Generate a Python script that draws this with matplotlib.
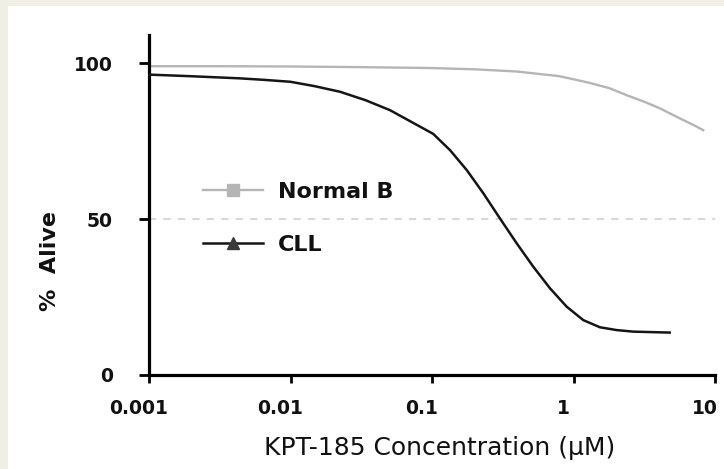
import matplotlib
matplotlib.use("Agg")
import matplotlib.pyplot as plt
import matplotlib.transforms as mtransforms
from matplotlib.lines import Line2D
from matplotlib.patches import Rectangle

# concentrations (uM) and % alive
normal_conc = [0.001, 0.00316, 0.01, 0.0316, 0.1, 0.2, 0.398, 0.794, 1.259, 1.778,
               2.377, 3.162, 4.074, 5.623, 7.079, 8.26]
normal_alive = [99.0, 99.0, 98.9, 98.7, 98.4, 98.0, 97.3, 95.8, 93.8, 92.0,
                89.7, 87.6, 85.5, 82.3, 80.1, 78.5]

cll_conc = [0.001, 0.00195, 0.0044, 0.0066, 0.01, 0.0148, 0.0224, 0.0339, 0.0505,
            0.0759, 0.102, 0.134, 0.176, 0.231, 0.302, 0.397, 0.52, 0.682, 0.895,
            1.172, 1.538, 2.018, 2.649, 4.786]
cll_alive = [96.3, 95.8, 95.1, 94.6, 94.0, 92.6, 90.8, 88.1, 84.9,
             80.5, 77.3, 72.1, 65.7, 58.2, 50.2, 42.2, 34.7, 27.8, 21.9,
             17.6, 15.3, 14.4, 13.9, 13.6]

y_ticks = [0, 50, 100]
x_ticks = [0.001, 0.01, 0.1, 1, 10]
x_ticklabels = ["0.001", "0.01", "0.1", "1", "10"]

FONT = "DejaVu Sans"

fig = plt.figure(figsize=(7.24, 4.69), dpi=100)
fig.patch.set_facecolor("#efefe6")
bg = Rectangle((8 / 724, 0), 1, 1 - 6 / 469, transform=fig.transFigure,
               facecolor="white", edgecolor="none", zorder=-5)
fig.add_artist(bg)

ax = fig.add_axes([149 / 724, 1 - 375 / 469, 566 / 724, 340 / 469])
ax.set_zorder(2)
ax.set_facecolor("none")

ax.axhline(50, color="#d4d4d4", linestyle=(0, (4, 4)), linewidth=1.3, zorder=1)
ax.plot(normal_conc, normal_alive, color="#b5b5b5", linewidth=1.7, zorder=2)
ax.plot(cll_conc, cll_alive, color="#151515", linewidth=1.8, zorder=3)

ax.set_xscale("log")
ax.set_xlim(0.001, 10)
ax.set_ylim(0, 109)
ax.set_xticks(x_ticks)
ax.set_xticklabels(x_ticklabels)
ax.minorticks_off()
ax.set_yticks(y_ticks)

for s in ("top", "right"):
    ax.spines[s].set_visible(False)
for s in ("left", "bottom"):
    ax.spines[s].set_linewidth(2.3)
    ax.spines[s].set_color("black")
ax.tick_params(axis="both", width=2.0, direction="out", labelsize=13.5, color="black")
ax.tick_params(axis="x", length=5.5, pad=12)
ax.tick_params(axis="y", length=7, pad=19)
shift = mtransforms.ScaledTranslation(-10 / 100, 0, fig.dpi_scale_trans)
for lbl in ax.get_xticklabels():
    lbl.set_transform(lbl.get_transform() + shift)
for lbl in ax.get_xticklabels() + ax.get_yticklabels():
    lbl.set_fontfamily(FONT)
    lbl.set_fontweight("bold")
    lbl.set_color("#111111")

fig.text(440 / 724, 1 - 448 / 469, "KPT-185 Concentration (µM)", ha="center",
         va="center", fontsize=18, fontfamily=FONT, color="#111111")
fig.text(50 / 724, 1 - 261 / 469, "%  Alive", rotation=90, ha="center", va="center",
         fontsize=16, fontfamily=FONT, fontweight="bold", color="#111111")

handles = [
    Line2D([], [], color="#b5b5b5", linewidth=1.7, marker="s", markersize=8.5,
           markerfacecolor="#b5b5b5", markeredgecolor="#b5b5b5"),
    Line2D([], [], color="#151515", linewidth=1.8, marker="^", markersize=8.5,
           markerfacecolor="#3a3a3a", markeredgecolor="#3a3a3a"),
]
leg = ax.legend(handles, ["Normal B", "CLL"], loc="upper left",
                bbox_to_anchor=(0.0954, 0.568), frameon=False, handlelength=2.7,
                labelspacing=1.48, handletextpad=0.68, borderpad=0, borderaxespad=0,
                prop={"family": FONT, "weight": "bold", "size": 16})
for t in leg.get_texts():
    t.set_color("#111111")

fig.savefig("out.png", dpi=100, facecolor=fig.get_facecolor())
